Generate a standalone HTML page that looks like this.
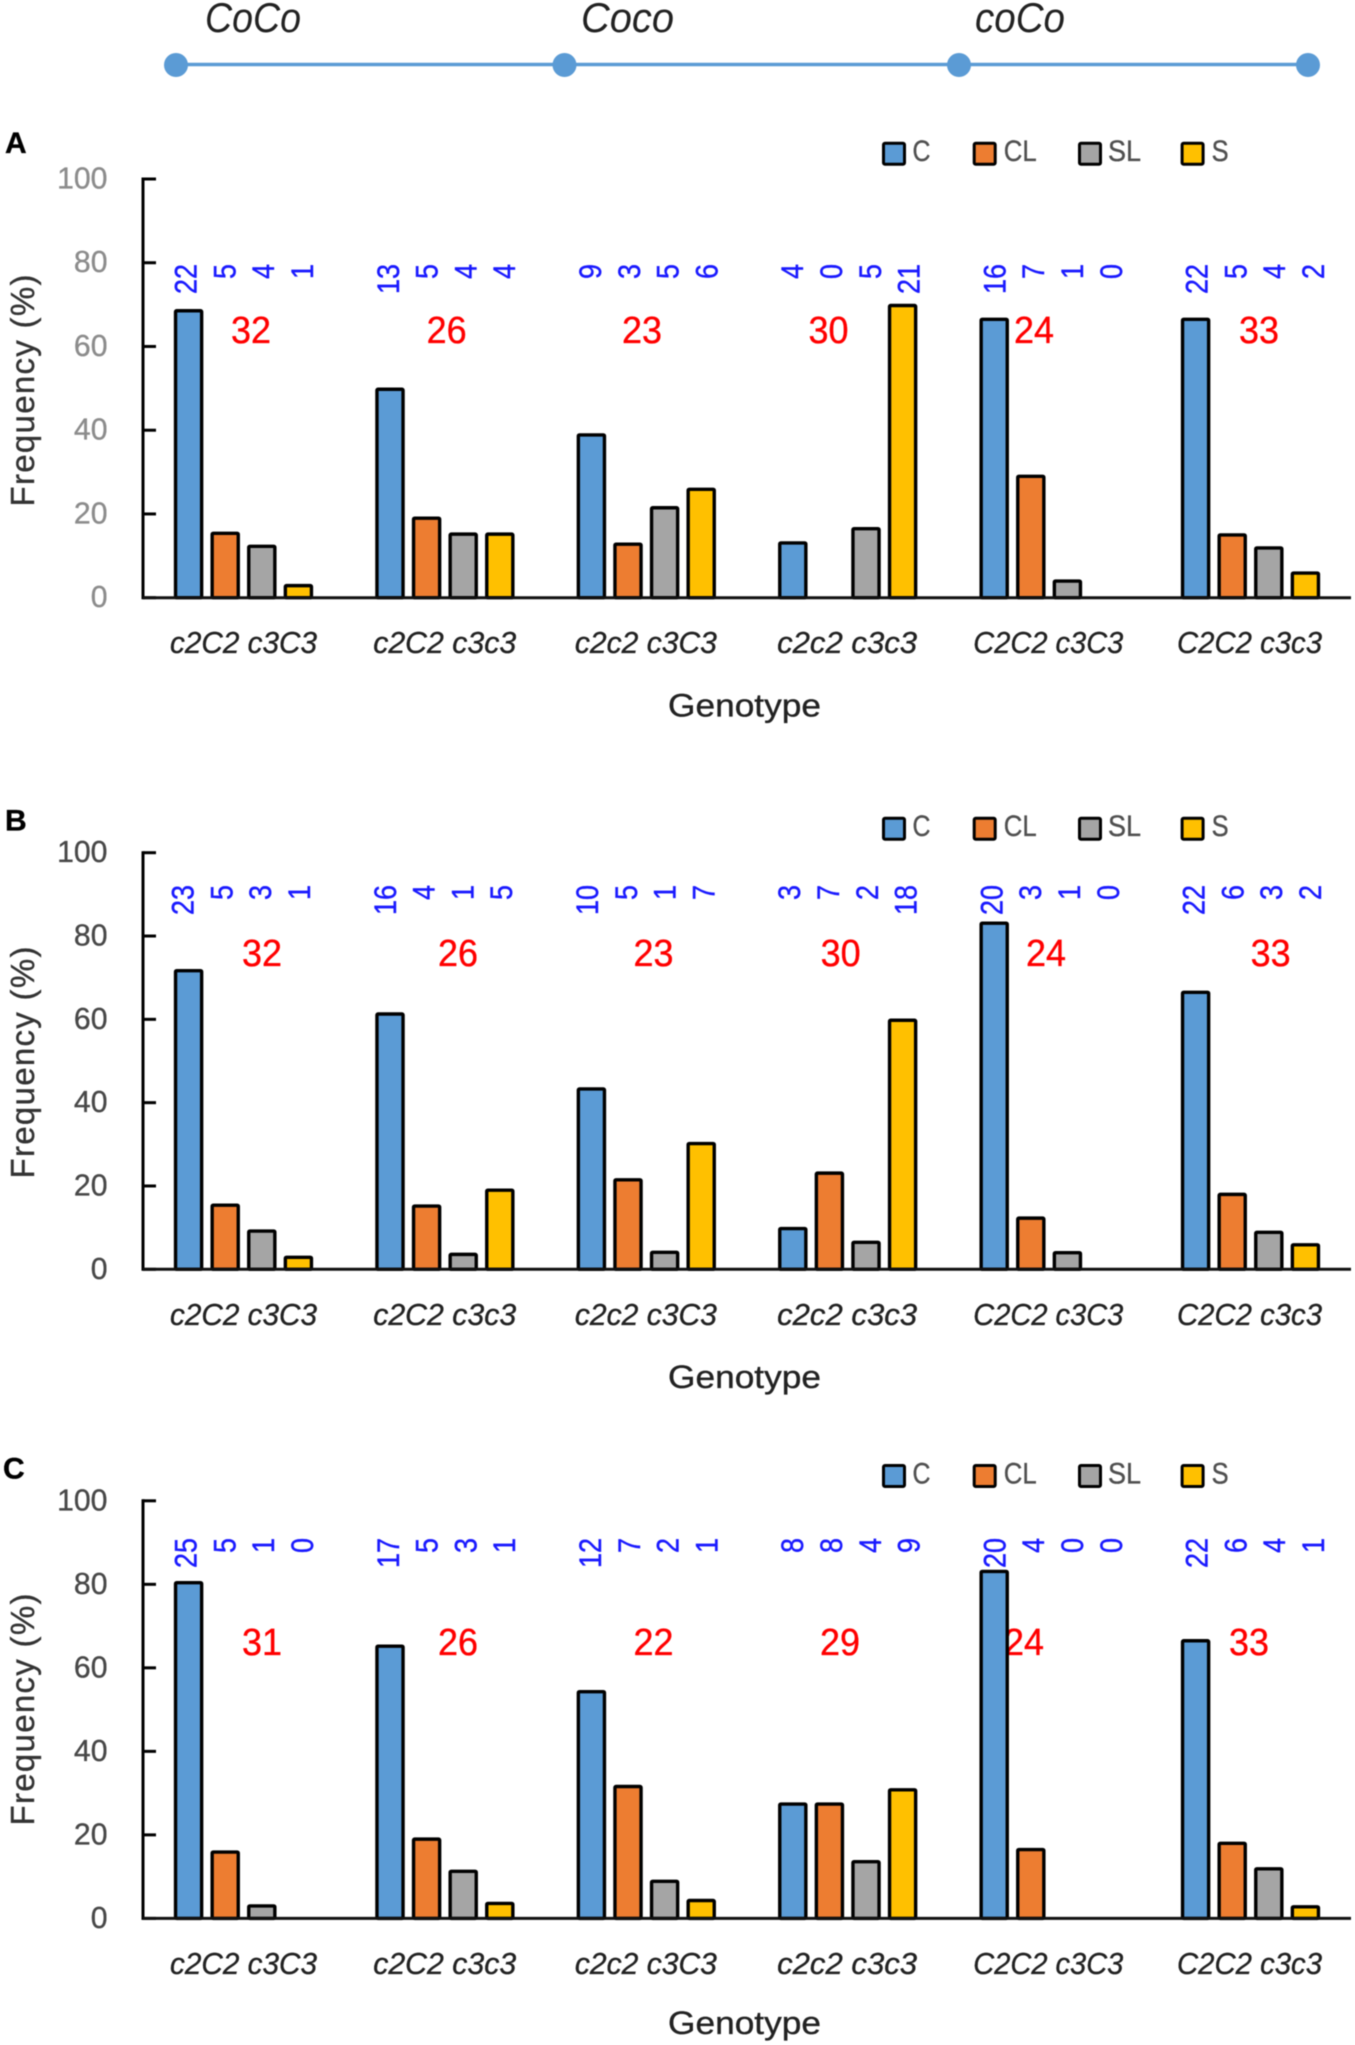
<!DOCTYPE html>
<html lang="en">
<head>
<meta charset="utf-8">
<title>Frequency by genotype</title>
<style>
html,body{margin:0;padding:0;background:#fff;}
svg{display:block;filter:blur(0.55px);}
text{font-family:"Liberation Sans",sans-serif;}
</style>
</head>
<body>
<svg id="figure" xmlns="http://www.w3.org/2000/svg" width="1355" height="2045" viewBox="0 0 1355 2045">
  <rect x="0" y="0" width="1355" height="2045" fill="#ffffff"/>
  <g>
    <line x1="176" y1="64.5" x2="1308" y2="64.5" stroke="#5b9bd5" stroke-width="3.6"/>
    <circle cx="176" cy="65" r="12" fill="#5b9bd5"/>
    <circle cx="564.5" cy="65" r="12" fill="#5b9bd5"/>
    <circle cx="959" cy="65" r="12" fill="#5b9bd5"/>
    <circle cx="1308" cy="65" r="12" fill="#5b9bd5"/>
    <text x="205" y="32" font-size="42" font-style="italic" fill="#222" textLength="96" lengthAdjust="spacingAndGlyphs">CoCo</text>
    <text x="581" y="32" font-size="42" font-style="italic" fill="#222" textLength="93" lengthAdjust="spacingAndGlyphs">Coco</text>
    <text x="975" y="32" font-size="42" font-style="italic" fill="#222" textLength="90" lengthAdjust="spacingAndGlyphs">coCo</text>
  </g>
</svg>
<script>
// ---- shared chart data ----
const categories = ["c2C2 c3C3", "c2C2 c3c3", "c2c2 c3C3", "c2c2 c3c3", "C2C2 c3C3", "C2C2 c3c3"];
const seriesNames = ["C", "CL", "SL", "S"];
const yTicks = [0, 20, 40, 60, 80, 100];

// ---- panel A ----
const panelA_C  = [68.75, 50.0, 39.1, 13.3, 66.7, 66.7];
const panelA_CL = [15.6, 19.2, 13.0, 0, 29.2, 15.2];
const panelA_SL = [12.5, 15.4, 21.7, 16.7, 4.2, 12.1];
const panelA_S  = [3.1, 15.4, 26.1, 70.0, 0, 6.1];
const panelA_counts_C  = [22, 13, 9, 4, 16, 22];
const panelA_counts_CL = [5, 5, 3, 0, 7, 5];
const panelA_counts_SL = [4, 4, 5, 5, 1, 4];
const panelA_counts_S  = [1, 4, 6, 21, 0, 2];
const panelA_totals = [32, 26, 23, 30, 24, 33];

// ---- panel B ----
const panelB_C  = [71.9, 61.5, 43.5, 10.0, 83.3, 66.7];
const panelB_CL = [15.6, 15.4, 21.7, 23.3, 12.5, 18.2];
const panelB_SL = [9.4, 3.8, 4.3, 6.7, 4.2, 9.1];
const panelB_S  = [3.1, 19.2, 30.4, 60.0, 0, 6.1];
const panelB_counts_C  = [23, 16, 10, 3, 20, 22];
const panelB_counts_CL = [5, 4, 5, 7, 3, 6];
const panelB_counts_SL = [3, 1, 1, 2, 1, 3];
const panelB_counts_S  = [1, 5, 7, 18, 0, 2];
const panelB_totals = [32, 26, 23, 30, 24, 33];

// ---- panel C ----
const panelC_C  = [80.6, 65.4, 54.5, 27.6, 83.3, 66.7];
const panelC_CL = [16.1, 19.2, 31.8, 27.6, 16.7, 18.2];
const panelC_SL = [3.2, 11.5, 9.1, 13.8, 0, 12.1];
const panelC_S  = [0, 3.8, 4.5, 31.0, 0, 3.0];
const panelC_counts_C  = [25, 17, 12, 8, 20, 22];
const panelC_counts_CL = [5, 5, 7, 8, 4, 6];
const panelC_counts_SL = [1, 3, 2, 4, 0, 4];
const panelC_counts_S  = [0, 1, 1, 9, 0, 1];
const panelC_totals = [31, 26, 22, 29, 24, 33];

// ---- drawing ----
const NS = "http://www.w3.org/2000/svg";
const figure = document.getElementById("figure");
const seriesColors = ["#5b9bd5", "#ed7d31", "#a5a5a5", "#ffc000"];
const AXIS_X = 143, AXIS_RIGHT = 1351;
const BAR_W = 29.5, BAR_STEP = 36.6, GROUP_STEP = 201.4, GROUP_CENTER0 = 243.5;
const BAR_STROKE = 3.4;

function el(tag, attrs, parent, text) {
  const node = document.createElementNS(NS, tag);
  for (const k in attrs) node.setAttribute(k, attrs[k]);
  if (text !== undefined) {
    node.textContent = text;
    node.setAttribute("stroke", attrs.fill);
    node.setAttribute("stroke-width", "0.35");
  }
  parent.appendChild(node);
  return node;
}
function barLeft(g, s) {
  return GROUP_CENTER0 + g * GROUP_STEP - (3 * BAR_STEP + BAR_W) / 2 + s * BAR_STEP;
}
function countX(g, s, off) {
  return 185.6 + off + g * 202.2 + s * 38.8;
}
function categoryLength(name) {
  const widths = {"c2C2 c3C3":147, "c2C2 c3c3":143, "c2c2 c3C3":142, "c2c2 c3c3":140, "C2C2 c3C3":150, "C2C2 c3c3":145};
  return widths[name];
}

function drawPanel(p) {
  const yScale = v => p.y0 - (v / 100) * (p.y0 - p.y100);

  const panel = document.createElementNS(NS, "g");
  
  
  figure.appendChild(panel);

  const letter = el("text", {x: p.letterX, y: p.letterY, "font-size": 30, "font-weight": "bold", fill: "#000"}, panel, p.letter);
  
  

  // legend
  const legendSwatchX = [882, 972.7, 1078, 1180.6];
  const legendTextX = [912.5, 1003.7, 1108, 1211.6];
  const legendTextLen = [18, 33, 33, 17];
  seriesNames.forEach((name, i) => {
    const entry = document.createElementNS(NS, "g");
    
    
    panel.appendChild(entry);
    const sw = el("rect", {x: legendSwatchX[i] + 1.5, y: p.legendTop + 1.5, width: 21, height: 21, rx: 1.5, fill: seriesColors[i], stroke: "#000", "stroke-width": 3}, entry);
    
    
    const t = el("text", {x: legendTextX[i], y: p.legendTop + 19.5, "font-size": 30, fill: "#505050", textLength: legendTextLen[i], lengthAdjust: "spacingAndGlyphs"}, entry, name);
    
    
  });

  // y axis ticks and labels
  yTicks.forEach(v => {
    const y = yScale(v);
    const tick = el("line", {x1: AXIS_X, y1: y, x2: 156, y2: y, stroke: "#000", "stroke-width": 3}, panel);
    
    
    const lab = el("text", {x: 107.5, y: y + 9.5, "font-size": 31, "text-anchor": "end", fill: p.tickColor, textLength: String(v).length * 16.8, lengthAdjust: "spacingAndGlyphs"}, panel, String(v));
    
    
  });

  const yTitle = el("text", {transform: "translate(34," + p.yTitleCenter + ") rotate(-90)", "text-anchor": "middle", "font-size": 33, fill: "#333", textLength: 232, lengthAdjust: "spacing"}, panel, "Frequency (%)");
  
  

  // count labels (drawn under the bars)
  p.counts.forEach((arr, s) => {
    arr.forEach((c, g) => {
      const cx = countX(g, s, p.countOff);
      const t = el("text", {transform: "translate(" + (cx + 11) + "," + p.countTop + ") rotate(-90) scale(1,1.15)", "text-anchor": "end", "font-size": 27, fill: "#1a1aff"}, panel, String(c));
      
      
    });
  });

  // group totals
  p.totals.forEach((n, g) => {
    const t = el("text", {x: p.totalX[g], y: p.totalY, "font-size": 38, "text-anchor": "middle", fill: "#ff0000", textLength: 40, lengthAdjust: "spacingAndGlyphs"}, panel, String(n));
    
    
  });

  // bars
  p.series.forEach((vals, s) => {
    vals.forEach((v, g) => {
      const top = yScale(v) - 0.8;
      const h = Math.max(0, p.y0 - top - BAR_STROKE / 2);
      const r = el("rect", {x: barLeft(g, s) + BAR_STROKE / 2, y: top + BAR_STROKE / 2, width: BAR_W - BAR_STROKE, height: h, rx: 1, fill: seriesColors[s], stroke: v > 0 ? "#000" : "none", "stroke-width": BAR_STROKE}, panel);
      
      
    });
  });

  // axes
  const yAxis = el("line", {x1: AXIS_X, y1: p.y100 - 1.5, x2: AXIS_X, y2: p.y0 + 1.5, stroke: "#000", "stroke-width": 3}, panel);
  
  
  const xAxis = el("line", {x1: AXIS_X, y1: p.y0, x2: AXIS_RIGHT, y2: p.y0, stroke: "#111", "stroke-width": 3}, panel);
  
  

  // category labels
  categories.forEach((name, g) => {
    const t = el("text", {x: 243.5 + g * 201.2, y: p.y0 + 55.5, "font-size": 31, "font-style": "italic", "text-anchor": "middle", fill: "#222", textLength: categoryLength(name), lengthAdjust: "spacingAndGlyphs"}, panel, name);
    
    
  });

  const xTitle = el("text", {x: 744.5, y: p.xTitleY, "font-size": 32, "text-anchor": "middle", fill: "#222", textLength: 153, lengthAdjust: "spacingAndGlyphs"}, panel, "Genotype");
  
  
}

drawPanel({
  letter: "A", letterX: 5, letterY: 153,
  y0: 597.7, y100: 179, legendTop: 141.7, tickColor: "#8c8c8c",
  yTitleCenter: 390.5, countTop: 264, countOff: 0,
  totalY: 343, totalX: [251, 446.6, 642, 828.5, 1034, 1259], xTitleY: 716.7,
  series: [panelA_C, panelA_CL, panelA_SL, panelA_S],
  counts: [panelA_counts_C, panelA_counts_CL, panelA_counts_SL, panelA_counts_S],
  totals: panelA_totals
});
drawPanel({
  letter: "B", letterX: 5, letterY: 830.7,
  y0: 1269.3, y100: 852.7, legendTop: 816.7, tickColor: "#484848",
  yTitleCenter: 1062.5, countTop: 885, countOff: -3,
  totalY: 966, totalX: [262, 458, 653.5, 840.6, 1046, 1270.6], xTitleY: 1388,
  series: [panelB_C, panelB_CL, panelB_SL, panelB_S],
  counts: [panelB_counts_C, panelB_counts_CL, panelB_counts_SL, panelB_counts_S],
  totals: panelB_totals
});
drawPanel({
  letter: "C", letterX: 3, letterY: 1478.5,
  y0: 1918.4, y100: 1500.8, legendTop: 1464, tickColor: "#484848",
  yTitleCenter: 1709.5, countTop: 1538, countOff: 0,
  totalY: 1655, totalX: [262, 458, 653.5, 840, 1024, 1249], xTitleY: 2034,
  series: [panelC_C, panelC_CL, panelC_SL, panelC_S],
  counts: [panelC_counts_C, panelC_counts_CL, panelC_counts_SL, panelC_counts_S],
  totals: panelC_totals
});
</script>
</body>
</html>
